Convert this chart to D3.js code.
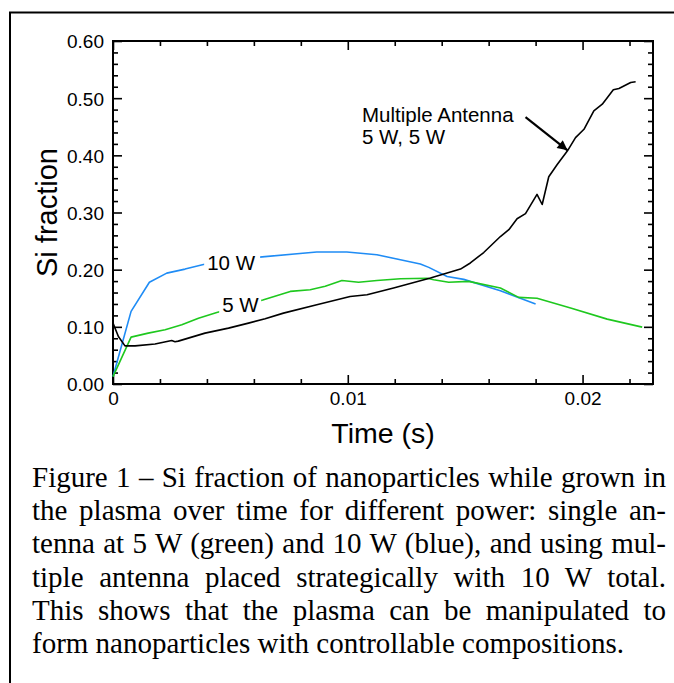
<!DOCTYPE html>
<html>
<head>
<meta charset="utf-8">
<script src="https://cdn.jsdelivr.net/npm/d3@7"></script>
<style>
  body { margin: 0; background: #fff; }
  #wrap { position: relative; width: 674px; height: 683px; overflow: hidden; }
  svg { position: absolute; left: 0; top: 0; }
  .axis text { font-family: "Liberation Sans", Arial, sans-serif; font-size: 19px; fill: #000; }
  .axis path, .axis line { stroke: #000; }
  #caption { position: absolute; left: 32px; top: 461px; width: 634px;
    font-family: "Liberation Serif", "Times New Roman", serif; font-size: 29px; line-height: 33.2px; color: #000; }
  #caption div { text-align: justify; text-align-last: justify; white-space: nowrap; }
  #caption div.last { text-align-last: left; }
</style>
</head>
<body>
<div id="wrap">
<svg width="674" height="683"></svg>
<div id="caption"></div>
</div>
<script>
// 10 W single antenna (blue)
const t10 = [0, 0.00077, 0.00155, 0.00229, 0.00307, 0.00385, 0.00624, 0.00868, 0.00996, 0.01124, 0.01309, 0.01345, 0.01423, 0.01494, 0.0165, 0.018]
const si10 = [0.013, 0.127, 0.178, 0.194, 0.201, 0.209, 0.222, 0.231, 0.231, 0.226, 0.21, 0.204, 0.188, 0.183, 0.163, 0.14]

// 5 W single antenna (green)
const t5 = [0, 0.00077, 0.0015, 0.00222, 0.00293, 0.00364, 0.00442, 0.00638, 0.00755, 0.0084, 0.00904, 0.00975, 0.01046, 0.01124, 0.01224, 0.01338, 0.01366, 0.0143, 0.01515, 0.0165, 0.01728, 0.01806, 0.01949, 0.02105, 0.02254]
const si5 = [0.013, 0.082, 0.089, 0.095, 0.1035, 0.115, 0.125, 0.147, 0.162, 0.165, 0.171, 0.181, 0.178, 0.181, 0.184, 0.185, 0.1825, 0.178, 0.1795, 0.168, 0.1515, 0.15, 0.133, 0.1135, 0.0995]

// multiple antenna 5 W, 5 W (black)
const tM = [0, 0.00023, 0.00051, 0.00094, 0.00179, 0.0025, 0.00264, 0.00278, 0.00392, 0.00492, 0.00577, 0.00648, 0.00726, 0.00868, 0.0101, 0.01082, 0.01195, 0.01352, 0.0148, 0.01522, 0.01579, 0.0165, 0.01686, 0.01721, 0.01757, 0.01806, 0.01828, 0.01856, 0.01892, 0.01935, 0.0197, 0.02006, 0.02048, 0.02084, 0.02131, 0.02155, 0.02205, 0.02226]
const siM = [0.1065, 0.083, 0.0667, 0.0667, 0.070, 0.076, 0.074, 0.075, 0.089, 0.0977, 0.1065, 0.114, 0.124, 0.1386, 0.153, 0.156, 0.168, 0.1854, 0.201, 0.2117, 0.230, 0.258, 0.270, 0.289, 0.298, 0.3316, 0.314, 0.3626, 0.384, 0.4075, 0.431, 0.4456, 0.4778, 0.4895, 0.5146, 0.517, 0.5275, 0.5286]

const xMajor = [0, 0.01, 0.02]
const yMajor = [0, 0.1, 0.2, 0.3, 0.4, 0.5, 0.6]

const captionLines = [
  'Figure 1 \u2013 Si fraction of nanoparticles while grown in',
  'the plasma over time for different power: single an-',
  'tenna at 5 W (green) and 10 W (blue), and using mul-',
  'tiple antenna placed strategically with 10 W total.',
  'This shows that the plasma can be manipulated to',
  'form nanoparticles with controllable compositions.'
]

const svg = d3.select('svg')
const L = 113, R = 653, T = 41, B = 384
const sans = '"Liberation Sans", Arial, sans-serif'

const x = d3.scaleLinear().domain([0, 0.023]).range([L, R])
const y = d3.scaleLinear().domain([0, 0.6]).range([B, T])

const xMinor = d3.range(0, 0.0231, 0.002).filter(v => !xMajor.some(m => Math.abs(m - v) < 1e-9))
const yMinor = d3.range(0, 0.601, 0.02).filter(v => !yMajor.some(m => Math.abs(m - v) < 1e-9))

/* outer frame */
svg.append('rect')
  .attr('x', 10).attr('y', 12.5).attr('width', 700).attr('height', 700)
  .attr('fill', 'none').attr('stroke', '#000').attr('stroke-width', 2)

/* axes: ticks point inward */
function axes(gen, scale, ticks, size, labels, tx, ty, fmt){
  const g = svg.append('g').attr('class', 'axis').attr('transform', `translate(${tx},${ty})`)
    .call(gen(scale).tickValues(ticks).tickSize(-size).tickSizeOuter(0).tickPadding(size + 6)
      .tickFormat(labels ? fmt : ''))
  g.select('.domain').remove()
  g.selectAll('line').attr('stroke-width', 1.6)
  return g
}
const fx = d => d === 0 ? '0' : d3.format('.2f')(d).replace(/0$/, '')
const fy = d3.format('.2f')

const xb = axes(d3.axisBottom, x, xMajor, 9, true, 0, B, fx)
axes(d3.axisBottom, x, xMinor, 5, false, 0, B)
axes(d3.axisTop, x, xMajor, -9, false, 0, T).selectAll('line').attr('y2', 9)
axes(d3.axisTop, x, xMinor, -5, false, 0, T).selectAll('line').attr('y2', 5)
const yl = axes(d3.axisLeft, y, yMajor, 9, true, L, 0, fy)
axes(d3.axisLeft, y, yMinor, 5, false, L, 0)
axes(d3.axisRight, y, yMajor, 9, false, R, 0)
axes(d3.axisRight, y, yMinor, 5, false, R, 0)

xb.selectAll('text').attr('dy', '0.71em').attr('y', 8)
yl.selectAll('text').attr('x', -9).attr('dy', '0.36em')

svg.append('rect')
  .attr('x', L).attr('y', T).attr('width', R - L).attr('height', B - T)
  .attr('fill', 'none').attr('stroke', '#000').attr('stroke-width', 2)

/* curves */
const line = d3.line().x(d => x(d[0])).y(d => y(d[1]))
const series = [
  { t: t10, v: si10, color: '#1f8cf5' },
  { t: t5, v: si5, color: '#1ec81e' },
  { t: tM, v: siM, color: '#000' }
]
svg.append('g').selectAll('path').data(series).enter().append('path')
  .attr('d', s => line(s.t.map((t, i) => [t, s.v[i]])))
  .attr('fill', 'none')
  .attr('stroke', s => s.color)
  .attr('stroke-width', 1.6)
  .attr('stroke-linejoin', 'round')

/* white gaps behind inline labels */
const lab = svg.append('g').style('font-family', sans).style('font-size', '20.5px')
function inlineLabel(txt, tx, ty, w){
  lab.append('rect').attr('x', x(tx) - 3).attr('y', y(ty) - 17).attr('width', w).attr('height', 22).attr('fill', '#fff')
  lab.append('text').attr('x', x(tx)).attr('y', y(ty)).text(txt)
}
inlineLabel('10 W', 0.00401, 0.2, 56)
inlineLabel('5 W', 0.00465, 0.126, 42)

lab.append('text').attr('x', 362).attr('y', 122).text('Multiple Antenna')
lab.append('text').attr('x', 362).attr('y', 144).text('5 W, 5 W')

/* arrow */
svg.append('defs').append('marker')
  .attr('id', 'head').attr('viewBox', '0 0 10 10').attr('refX', 10).attr('refY', 5)
  .attr('markerWidth', 14).attr('markerHeight', 10).attr('markerUnits', 'userSpaceOnUse')
  .attr('orient', 'auto')
  .append('path').attr('d', 'M0,0L10,5L0,10Z').attr('fill', '#000')
svg.append('line')
  .attr('x1', x(0.01757)).attr('y1', y(0.4667))
  .attr('x2', x(0.01936)).attr('y2', y(0.4088))
  .attr('stroke', '#000').attr('stroke-width', 2.2)
  .attr('marker-end', 'url(#head)')

/* axis titles */
svg.append('text')
  .attr('x', (L + R) / 2).attr('y', 443)
  .attr('text-anchor', 'middle')
  .style('font-family', sans).style('font-size', '28.5px')
  .text('Time (s)')
svg.append('text')
  .attr('transform', `translate(57,${(T + B) / 2}) rotate(-90)`)
  .attr('text-anchor', 'middle')
  .style('font-family', sans).style('font-size', '29px')
  .text('Si fraction')

/* caption */
d3.select('#caption').selectAll('div').data(captionLines).enter().append('div')
  .classed('last', (d, i) => i === captionLines.length - 1)
  .text(d => d)
</script>
</body>
</html>
